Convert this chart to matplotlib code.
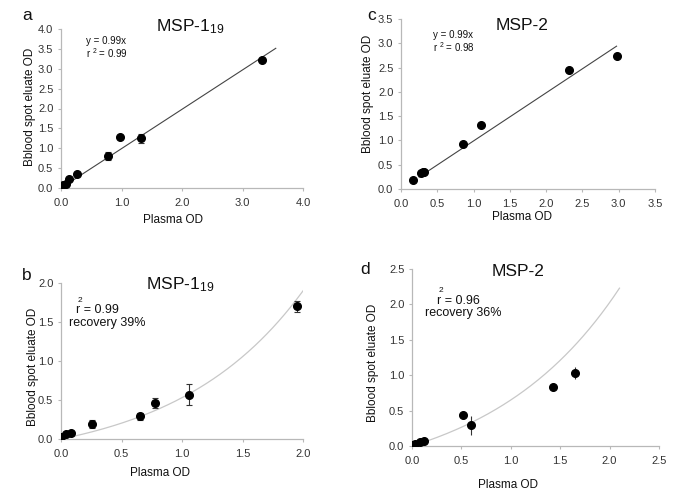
import numpy as np
import matplotlib
matplotlib.use("Agg")
import matplotlib.pyplot as plt

plt.rcParams['font.family'] = ['Liberation Sans', 'DejaVu Sans']
plt.rcParams['mathtext.default'] = 'regular'

# ---- data ----
a_x = [0.03, 0.08, 0.14, 0.27, 0.78, 0.97, 1.32, 3.32]
a_y = [0.07, 0.10, 0.23, 0.35, 0.80, 1.28, 1.25, 3.22]
a_err = [0.02, 0.02, 0.03, 0.03, 0.10, 0.03, 0.12, 0.03]
a_slope = 0.99
a_line_x = [0.0, 3.55]

c_x = [0.17, 0.27, 0.30, 0.32, 0.86, 1.10, 2.32, 2.97]
c_y = [0.18, 0.33, 0.35, 0.36, 0.93, 1.32, 2.46, 2.73]
c_slope = 0.99
c_line_x = [0.25, 2.97]

b_x = [0.00, 0.04, 0.08, 0.26, 0.65, 0.78, 1.06, 1.95]
b_y = [0.03, 0.06, 0.08, 0.19, 0.29, 0.46, 0.57, 1.70]
b_err = [0.01, 0.01, 0.02, 0.05, 0.04, 0.06, 0.13, 0.07]
b_fit = (0.334, 0.95)   # y = A*(exp(B*x)-1)
b_fit_range = [0.08, 2.0]

d_x = [0.00, 0.03, 0.08, 0.12, 0.52, 0.60, 1.43, 1.65]
d_y = [0.02, 0.03, 0.05, 0.07, 0.44, 0.29, 0.83, 1.03]
d_err = [0.01, 0.01, 0.02, 0.03, 0.04, 0.13, 0.02, 0.08]
d_fit = (0.582, 0.75)
d_fit_range = [0.08, 2.1]

W, H = 685, 497
fig = plt.figure(figsize=(W / 100, H / 100), dpi=100)

def rect(l, r, t, b):
    return [l / W, 1 - b / H, (r - l) / W, (b - t) / H]

def ft(x, y, s, **kw):
    fig.text(x / W, 1 - y / H, s, **kw)

spine_col = '#b8b8b8'

def style(ax, xlim, ylim, xt, yt, fmt):
    ax.set_xlim(*xlim)
    ax.set_ylim(*ylim)
    for s in ['top', 'right']:
        ax.spines[s].set_visible(False)
    for s in ['left', 'bottom']:
        ax.spines[s].set_color(spine_col)
        ax.spines[s].set_linewidth(0.9)
    ax.set_xticks(xt)
    ax.set_yticks(yt)
    ax.set_xticklabels([fmt % v for v in xt])
    ax.set_yticklabels([fmt % v for v in yt])
    ax.tick_params(direction='out', length=2.5, width=0.8, color=spine_col,
                   labelsize=8, labelcolor='#333333', pad=3)
    ax.tick_params(axis='x', pad=5)
    ax.patch.set_alpha(0)

pt = dict(fmt='o', color='black', ms=5.5, ecolor='#333333', elinewidth=0.8,
          capsize=2, capthick=0.8, zorder=3)

# panel a
ax = fig.add_axes(rect(61, 303, 29, 188))
lx = np.array(a_line_x)
ax.plot(lx, a_slope * lx, color='#444444', lw=0.8)
ax.errorbar(a_x, a_y, yerr=a_err, **pt)
style(ax, (0, 4.0), (0, 4.0), [0, 1, 2, 3, 4], [0, 0.5, 1, 1.5, 2, 2.5, 3, 3.5, 4], '%.1f')

# panel c
ax = fig.add_axes(rect(401, 655, 19, 189))
lx = np.array(c_line_x)
ax.plot(lx, c_slope * lx, color='#444444', lw=0.8)
ax.plot(c_x, c_y, 'o', color='black', ms=5.5, zorder=3)
style(ax, (0, 3.5), (0, 3.5), [0, 0.5, 1, 1.5, 2, 2.5, 3, 3.5],
      [0, 0.5, 1, 1.5, 2, 2.5, 3, 3.5], '%.1f')

# panel b
ax = fig.add_axes(rect(61, 303, 283, 439))
fx = np.linspace(b_fit_range[0], b_fit_range[1], 200)
ax.plot(fx, b_fit[0] * (np.exp(b_fit[1] * fx) - 1), color='#c8c8c8', lw=0.9)
ax.errorbar(b_x, b_y, yerr=b_err, **pt)
style(ax, (0, 2.0), (0, 2.0), [0, 0.5, 1, 1.5, 2], [0, 0.5, 1, 1.5, 2], '%.1f')

# panel d
ax = fig.add_axes(rect(412, 659, 269, 446))
fx = np.linspace(d_fit_range[0], d_fit_range[1], 200)
ax.plot(fx, d_fit[0] * (np.exp(d_fit[1] * fx) - 1), color='#c8c8c8', lw=0.9)
ax.errorbar(d_x, d_y, yerr=d_err, fmt='o', color='black', ms=5.5, ecolor='#333333',
            elinewidth=0.8, capsize=0, zorder=3)
style(ax, (0, 2.5), (0, 2.5), [0, 0.5, 1, 1.5, 2, 2.5], [0, 0.5, 1, 1.5, 2, 2.5], '%.1f')

# texts
tc = '#111111'
ft(27, 15, 'a', fontsize=12.5, ha='center', va='center', color=tc)
ft(372, 15, 'c', fontsize=12.5, ha='center', va='center', color=tc)
ft(27, 275, 'b', fontsize=12.5, ha='center', va='center', color=tc)
ft(365, 270, 'd', fontsize=12.5, ha='center', va='center', color=tc)

ft(190, 27, 'MSP-1$_{19}$', fontsize=12.5, ha='center', va='center', color=tc)
ft(522, 25, 'MSP-2', fontsize=12.5, ha='center', va='center', color=tc)
ft(180, 285, 'MSP-1$_{19}$', fontsize=12.5, ha='center', va='center', color=tc)
ft(518, 272, 'MSP-2', fontsize=12.5, ha='center', va='center', color=tc)

ft(86, 41, 'y = 0.99x', fontsize=7, ha='left', va='center', color=tc)
ft(86, 53, 'r $^{2}$ = 0.99', fontsize=7, ha='left', va='center', color=tc)
ft(433, 35, 'y = 0.99x', fontsize=7, ha='left', va='center', color=tc)
ft(433, 47, 'r $^{2}$ = 0.98', fontsize=7, ha='left', va='center', color=tc)

ft(76, 310, 'r = 0.99', fontsize=9, ha='left', va='center', color=tc)
ft(78, 300, '2', fontsize=6, ha='left', va='center', color=tc)
ft(107, 323, 'recovery 39%', fontsize=9, ha='center', va='center', color=tc)
ft(437, 301, 'r = 0.96', fontsize=9, ha='left', va='center', color=tc)
ft(439, 291, '2', fontsize=6, ha='left', va='center', color=tc)
ft(463, 313, 'recovery 36%', fontsize=9, ha='center', va='center', color=tc)

ylab = 'Bblood spot eluate OD'
ft(30, 107, ylab, fontsize=8.5, rotation=90, ha='center', va='center', color=tc)
ft(368, 94, ylab, fontsize=8.5, rotation=90, ha='center', va='center', color=tc)
ft(33, 367, ylab, fontsize=8.5, rotation=90, ha='center', va='center', color=tc)
ft(373, 363, ylab, fontsize=8.5, rotation=90, ha='center', va='center', color=tc)

ft(173, 220, 'Plasma OD', fontsize=8.5, ha='center', va='center', color=tc)
ft(522, 217, 'Plasma OD', fontsize=8.5, ha='center', va='center', color=tc)
ft(160, 473, 'Plasma OD', fontsize=8.5, ha='center', va='center', color=tc)
ft(508, 485, 'Plasma OD', fontsize=8.5, ha='center', va='center', color=tc)

fig.savefig('out.png', dpi=100)
